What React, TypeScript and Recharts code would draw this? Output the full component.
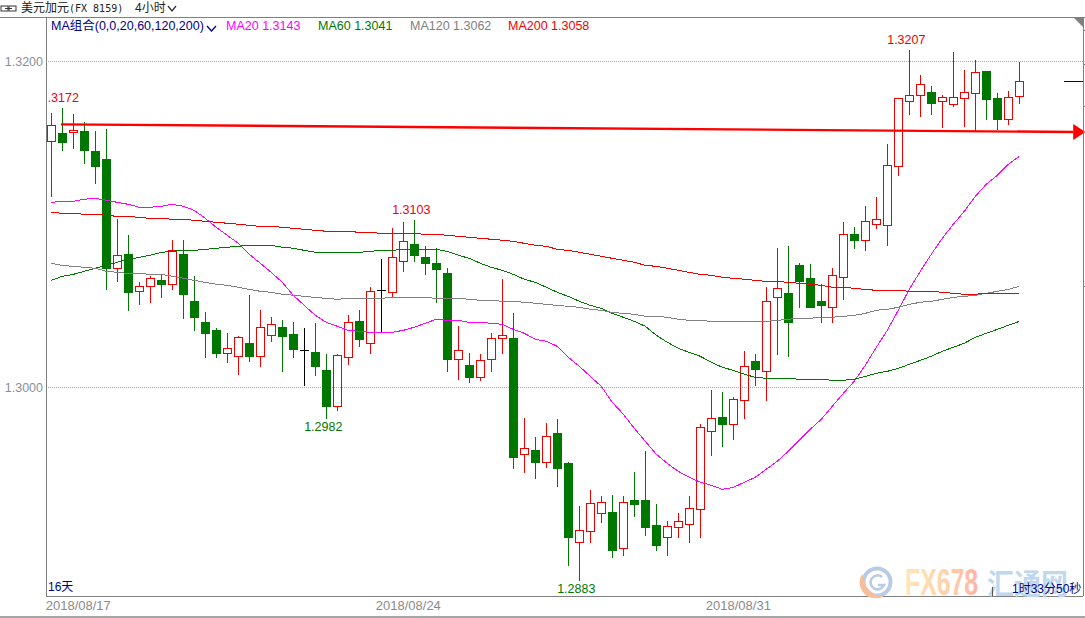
import { Bar, CartesianGrid, ComposedChart, Line, ReferenceDot, ReferenceLine, XAxis, YAxis } from "recharts";

const highs = [
  1.31688, 1.31718, 1.31681, 1.31633, 1.31577, 1.3159, 1.31038, 1.3094, 1.30652, 1.30689,
  1.30701, 1.3091, 1.3091, 1.30689, 1.30469, 1.30371, 1.3034, 1.30322, 1.30573, 1.30481,
  1.30438, 1.3042, 1.30407, 1.30371, 1.30401, 1.30211, 1.30211, 1.3045, 1.30481, 1.30622,
  1.30793, 1.30983, 1.3102, 1.31032, 1.30873, 1.30861, 1.30738, 1.30383, 1.30217, 1.30211,
  1.3034, 1.30671, 1.30462, 1.29819, 1.29703, 1.29789, 1.29813, 1.2955, 1.2928, 1.29378,
  1.29341, 1.29348, 1.29341, 1.29488, 1.29617, 1.29292, 1.29188, 1.29237, 1.29341, 1.29782,
  1.29991, 1.29979, 1.29948, 1.3023, 1.30211, 1.30622, 1.30861, 1.30873, 1.30769, 1.30763,
  1.3064, 1.30738, 1.3102, 1.30989, 1.31118, 1.31173, 1.31498, 1.3178, 1.32074, 1.3192,
  1.31853, 1.31798, 1.32061, 1.31951, 1.32012, 1.31939, 1.3181, 1.31822, 1.32,
];
const lows = [
  1.31173, 1.31455, 1.31467, 1.31375, 1.31253, 1.30603, 1.30652, 1.30475, 1.30511, 1.30524,
  1.30554, 1.30603, 1.30426, 1.30352, 1.30187, 1.30187, 1.30156, 1.30083, 1.30162, 1.30132,
  1.30285, 1.30101, 1.30187, 1.30015, 1.30077, 1.29813, 1.29862, 1.30144, 1.30254, 1.30211,
  1.3034, 1.30554, 1.30714, 1.30775, 1.30695, 1.30524, 1.30101, 1.30052, 1.30034, 1.30046,
  1.30101, 1.30211, 1.29507, 1.29482, 1.29446, 1.29513, 1.29397, 1.28913, 1.28821, 1.29053,
  1.29176, 1.28962, 1.28974, 1.29213, 1.29096, 1.29004, 1.28974, 1.29084, 1.29053, 1.29084,
  1.29586, 1.29642, 1.29685, 1.29813, 1.30015, 1.29923, 1.30205, 1.30193, 1.30493, 1.30493,
  1.30401, 1.30401, 1.30542, 1.30855, 1.30842, 1.30977, 1.30873, 1.31302, 1.31675, 1.31663,
  1.31675, 1.31596, 1.31724, 1.31602, 1.31571, 1.31645, 1.31584, 1.31614, 1.31743,
];
const opens = [
  1.3151, 1.31559, 1.31565, 1.31571, 1.31449, 1.314, 1.30732, 1.30818, 1.30591, 1.30622,
  1.30658, 1.30634, 1.30818, 1.3053, 1.30401, 1.30352, 1.30211, 1.30193, 1.30273, 1.30193,
  1.30322, 1.30371, 1.30328, 1.3023, 1.30217, 1.30107, 1.29887, 1.30187, 1.30407, 1.30273,
  1.30597, 1.30585, 1.30775, 1.30879, 1.30799, 1.30763, 1.30701, 1.30175, 1.30138, 1.30064,
  1.30175, 1.30303, 1.30303, 1.29593, 1.29617, 1.29544, 1.29721, 1.29537, 1.29053, 1.29121,
  1.29231, 1.29237, 1.29017, 1.29311, 1.29311, 1.29158, 1.29084, 1.29145, 1.29164, 1.29256,
  1.29734, 1.29819, 1.29776, 1.29923, 1.30162, 1.30101, 1.30554, 1.30579, 1.3075, 1.30671,
  1.3053, 1.30493, 1.30677, 1.3094, 1.30904, 1.31002, 1.30995, 1.31357, 1.31755, 1.31792,
  1.3181, 1.31755, 1.31737, 1.31773, 1.31804, 1.31939, 1.31773, 1.31645, 1.31786,
];
const closes = [
  1.31608, 1.31504, 1.31577, 1.31455, 1.31357, 1.30732, 1.30812, 1.30585, 1.30622, 1.30671,
  1.30634, 1.30842, 1.30573, 1.30432, 1.30334, 1.30211, 1.30242, 1.30309, 1.30193, 1.30371,
  1.30389, 1.30315, 1.30236, 1.3023, 1.30132, 1.29887, 1.30199, 1.30401, 1.30297, 1.30591,
  1.30597, 1.30799, 1.30897, 1.30812, 1.30763, 1.30726, 1.30175, 1.3023, 1.30064, 1.30168,
  1.30303, 1.30322, 1.29574, 1.29629, 1.29544, 1.29703, 1.29507, 1.29084, 1.29127, 1.29292,
  1.29298, 1.29004, 1.29298, 1.29286, 1.29145, 1.29035, 1.29151, 1.29182, 1.29262, 1.29758,
  1.29813, 1.29776, 1.2993, 1.30132, 1.30113, 1.3053, 1.30609, 1.30401, 1.30652, 1.30493,
  1.30505, 1.30689, 1.3094, 1.30904, 1.3102, 1.31032, 1.31363, 1.31773, 1.31792, 1.31859,
  1.31743, 1.3178, 1.3178, 1.3181, 1.31933, 1.31767, 1.31645, 1.3178, 1.31878,
];

const ma20 = [
  1.31136, 1.31142, 1.31142, 1.31155, 1.31161, 1.31149, 1.31136, 1.31124, 1.31106, 1.31106,
  1.31112, 1.31124, 1.31112, 1.31087, 1.31038, 1.30983, 1.30934, 1.30885, 1.30818, 1.30763,
  1.30707, 1.30646, 1.30567, 1.30505, 1.30444, 1.30401, 1.30377, 1.30352, 1.30346, 1.3034,
  1.3034, 1.3034, 1.30352, 1.30371, 1.30395, 1.3042, 1.30413, 1.30413, 1.30401, 1.30401,
  1.30395, 1.30389, 1.30358, 1.30334, 1.30297, 1.30285, 1.30254, 1.30187, 1.30132, 1.3007,
  1.30009, 1.29911, 1.29838, 1.29752, 1.29672, 1.29593, 1.29537, 1.29488, 1.29452, 1.29421,
  1.29403, 1.29378, 1.2939, 1.29421, 1.29452, 1.29501, 1.2955, 1.29611, 1.29678, 1.29746,
  1.29807, 1.29887, 1.29966, 1.3004, 1.30138, 1.30248, 1.30352, 1.30475, 1.30603, 1.30714,
  1.30818, 1.30916, 1.31002, 1.31081, 1.31173, 1.31247, 1.31302, 1.31369, 1.31418,
];
const ma60 = [
  1.30658, 1.30683, 1.30695, 1.30714, 1.30732, 1.3075, 1.30769, 1.30787, 1.30799, 1.30812,
  1.3083, 1.30836, 1.30842, 1.30842, 1.30848, 1.30855, 1.30861, 1.30867, 1.30873, 1.30873,
  1.30873, 1.30861, 1.30855, 1.30842, 1.3083, 1.3083, 1.3083, 1.3083, 1.3083, 1.30836,
  1.30842, 1.30842, 1.30848, 1.30848, 1.30848, 1.30848, 1.30836, 1.30812, 1.30793, 1.30763,
  1.30738, 1.3072, 1.30695, 1.30665, 1.30646, 1.30616, 1.30585, 1.3056, 1.3053, 1.30505,
  1.30487, 1.30456, 1.30432, 1.30407, 1.30377, 1.30322, 1.30279, 1.30242, 1.30217, 1.30193,
  1.30156, 1.30126, 1.30107, 1.30083, 1.30064, 1.30058, 1.30058, 1.30058, 1.30052, 1.30052,
  1.30052, 1.30046, 1.30046, 1.30052, 1.3007, 1.30089, 1.30101, 1.30119, 1.30144, 1.30168,
  1.30193, 1.30224, 1.30248, 1.30273, 1.30309, 1.30334, 1.30358, 1.30383, 1.30407,
];
const ma120 = [
  1.30763, 1.3075, 1.30744, 1.30738, 1.30732, 1.30714, 1.30707, 1.30701, 1.30701, 1.30695,
  1.30695, 1.30683, 1.30671, 1.30658, 1.30646, 1.30634, 1.30628, 1.30616, 1.30603, 1.30591,
  1.30585, 1.30573, 1.30567, 1.3056, 1.30554, 1.30548, 1.30542, 1.30548, 1.30548, 1.30548,
  1.30548, 1.30554, 1.30554, 1.30554, 1.30554, 1.30548, 1.30548, 1.30548, 1.30542, 1.30536,
  1.30536, 1.3053, 1.3053, 1.30524, 1.30518, 1.30511, 1.30505, 1.30499, 1.30493, 1.30481,
  1.30475, 1.30462, 1.30456, 1.3045, 1.30438, 1.30438, 1.30432, 1.3042, 1.30413, 1.30413,
  1.30407, 1.30407, 1.30407, 1.30407, 1.30407, 1.30407, 1.30413, 1.3042, 1.30426, 1.30426,
  1.30432, 1.30432, 1.30438, 1.30444, 1.30456, 1.30475, 1.30481, 1.30493, 1.30511, 1.30524,
  1.3053, 1.30542, 1.30554, 1.3056, 1.30567, 1.30579, 1.30591, 1.30603, 1.30622,
];
const ma200 = [
  1.31075, 1.31069, 1.31069, 1.31063, 1.31063, 1.31057, 1.3105, 1.3105, 1.31044, 1.31038,
  1.31038, 1.31032, 1.31032, 1.31026, 1.3102, 1.31014, 1.31008, 1.31002, 1.30995, 1.30989,
  1.30989, 1.30983, 1.30977, 1.30971, 1.30965, 1.30959, 1.30959, 1.30959, 1.30952, 1.30952,
  1.30946, 1.30946, 1.30946, 1.30946, 1.3094, 1.3094, 1.30934, 1.30928, 1.30922, 1.30916,
  1.3091, 1.30904, 1.30897, 1.30885, 1.30873, 1.30867, 1.30848, 1.30842, 1.3083, 1.30818,
  1.30806, 1.30793, 1.30781, 1.30769, 1.3075, 1.30744, 1.30732, 1.3072, 1.30707, 1.30695,
  1.30689, 1.30677, 1.30671, 1.30665, 1.30658, 1.30652, 1.30652, 1.30646, 1.3064, 1.30634,
  1.30628, 1.30616, 1.30616, 1.30609, 1.30603, 1.30597, 1.30597, 1.30597, 1.30591, 1.30591,
  1.30591, 1.30585, 1.30579, 1.30573, 1.30573, 1.30579, 1.30579, 1.30579, 1.30579,
];

const yTicks = [1.3, 1.32];
const frameTicks = [1.3219, 1.31982, 1.31724, 1.30622];
const dateIndexes = [0, 30, 60];
const dateLabels = ["2018/08/17", "2018/08/24", "2018/08/31"];
const extremes = [
  { at: 1, price: 1.31718, text: ".3172", color: "#f00000", below: false },
  { at: 33, price: 1.31032, text: "1.3103", color: "#f00000", below: false },
  { at: 78, price: 1.32074, text: "1.3207", color: "#f00000", below: false },
  { at: 25, price: 1.29813, text: "1.2982", color: "#007800", below: true },
  { at: 48, price: 1.28821, text: "1.2883", color: "#007800", below: true },
];
const maLegend = [
  { text: "MA20 1.3143", color: "#ff00ff", left: 226 },
  { text: "MA60 1.3041", color: "#007800", left: 318 },
  { text: "MA120 1.3062", color: "#808080", left: 410 },
  { text: "MA200 1.3058", color: "#f00000", left: 508 },
];
const trendFrom = { x: 0.88, y: 1.31614 };
const trendTo = { x: 92.9, y: 1.31567 };
const lastPrice = 1.31878;

const data = highs.map((high, i) => ({
  i,
  high,
  low: lows[i],
  open: opens[i],
  close: closes[i],
  ma20: ma20[i],
  ma60: ma60[i],
  ma120: ma120[i],
  ma200: ma200[i],
}));

const UP = "#ee0000";
const DOWN = "#007800";
const FONT = '"Liberation Sans", Arial, sans-serif';
const CJK = '"Liberation Sans", "Noto Sans CJK SC", sans-serif';
const Y_DOMAIN = [1.287246, 1.322715];

function Candle(props: any) {
  const { x, y, width, height, payload } = props;
  const cx = Math.round(x + width / 2 - 0.5);
  const top = Math.min(y, y + height);
  const span = Math.abs(height);
  const py = (v: number) => Math.round(top + ((payload.high - v) / (payload.high - payload.low)) * span) + 0.5;
  const bodyTop = py(Math.max(payload.open, payload.close));
  const bodyBot = py(Math.min(payload.open, payload.close));
  const hi = py(payload.high);
  const lo = py(payload.low);
  const wick = cx + 0.5;
  const flat = payload.open === payload.close;
  const up = payload.close > payload.open;
  const color = flat ? "#000000" : up ? UP : DOWN;
  return (
    <g shapeRendering="crispEdges" stroke={color}>
      <line x1={wick} x2={wick} y1={hi} y2={bodyTop} />
      <line x1={wick} x2={wick} y1={bodyBot} y2={lo} />
      {flat ? (
        <line x1={cx - 4} x2={cx + 5} y1={bodyTop} y2={bodyTop} />
      ) : up ? (
        <rect x={cx - 3.5} y={bodyTop} width={8} height={bodyBot - bodyTop} fill="none" />
      ) : (
        <rect x={cx - 3.5} y={bodyTop} width={8} height={bodyBot - bodyTop} fill={DOWN} />
      )}
    </g>
  );
}

function DateTick({ x, y, payload }: any) {
  const idx = dateIndexes.indexOf(payload.value);
  return (
    <text x={x - 5.5} y={y + 6} fill="#8a8a8a" fontSize={13} fontFamily={FONT}>
      {dateLabels[idx]}
    </text>
  );
}

function TrendArrow({ x1, y1, x2, y2 }: any) {
  return (
    <g>
      <line x1={x1} y1={y1} x2={x2} y2={y2} stroke="#ff0000" strokeWidth={2.4} />
      <polygon points={`${x2},${y2 - 8} ${x2 + 12},${y2} ${x2},${y2 + 8}`} fill="#ff0000" />
    </g>
  );
}

const crisp = { shapeRendering: "crispEdges" } as const;

function Watermark() {
  return (
    <svg width={1085} height={618} style={{ position: "absolute", left: 0, top: 0, pointerEvents: "none" }}>
      <defs>
        <linearGradient id="fxGrad" x1="0" x2="1" y1="0" y2="0">
          <stop offset="0%" stopColor="#ffe6bb" />
          <stop offset="55%" stopColor="#ffd2a8" />
          <stop offset="100%" stopColor="#ffb3a6" />
        </linearGradient>
      </defs>
      <circle cx={877} cy={582} r={13.5} fill="none" stroke="#b8cbe6" strokeWidth={4} />
      <path d="M862 574 A16 16 0 0 0 884 596 A20 20 0 0 1 866 586 Z" fill="#f8bd9a" />
      <path d="M882 577 A7 7 0 1 0 884 585 L878 585" fill="none" stroke="#b8cbe6" strokeWidth={2.5} />
      <text x={905} y={595} fontFamily='"Liberation Sans Narrow", "Liberation Sans", sans-serif' fontWeight={700} fontSize={36}
        fill="url(#fxGrad)" textLength={73} lengthAdjust="spacingAndGlyphs">FX678</text>
      <text x={987} y={595} fontFamily='"Noto Sans CJK SC", sans-serif' fontWeight={700} fontSize={29}
        fill="#bfd8ee" textLength={81} lengthAdjust="spacingAndGlyphs">汇通网</text>
      <line x1={992.5} x2={992.5} y1={587} y2={596} stroke="#555" />
      <polygon points="1073,17 1083,17 1083,27" fill="#808080" />
    </svg>
  );
}

export default function App() {
  return (
    <div style={{ position: "fixed", left: 0, top: 0, width: 1085, height: 618, background: "#fff", overflow: "hidden" }}>
      <ComposedChart
        width={1085}
        height={618}
        data={data}
        margin={{ top: 17, right: 0, left: 0, bottom: 0 }}
        style={{ position: "absolute", left: 0, top: 0 }}
      >
        <CartesianGrid vertical={false} stroke="#aaaaaa" strokeDasharray="1 1" style={crisp} />
        <XAxis
          dataKey="i"
          type="number"
          scale="linear"
          domain={[-0.48, 93.79]}
          ticks={dateIndexes}
          interval={0}
          height={22}
          tick={DateTick}
          tickLine={false}
          axisLine={{ stroke: "#808080", ...crisp }}
          allowDataOverflow
        />
        <YAxis
          domain={Y_DOMAIN}
          ticks={yTicks}
          width={46}
          allowDataOverflow
          tickFormatter={(v: number) => v.toFixed(4)}
          tick={{ fill: "#87909a", fontSize: 12.5, fontFamily: FONT }}
          tickLine={false}
          tickSize={0}
          tickMargin={3}
          axisLine={{ stroke: "#808080", ...crisp }}
        />
        <YAxis
          yAxisId="frame"
          orientation="right"
          domain={Y_DOMAIN}
          ticks={frameTicks}
          width={2}
          allowDataOverflow
          tickSize={2}
          tickFormatter={() => ""}
          tickLine={{ stroke: "#808080", ...crisp }}
          axisLine={{ stroke: "#808080", ...crisp }}
        />
        <Line dataKey="ma20" stroke="#ff00ff" strokeWidth={1} dot={false} isAnimationActive={false} style={crisp} />
        <Line dataKey="ma60" stroke="#007800" strokeWidth={1} dot={false} isAnimationActive={false} style={crisp} />
        <Line dataKey="ma120" stroke="#808080" strokeWidth={1} dot={false} isAnimationActive={false} style={crisp} />
        <Line dataKey="ma200" stroke="#ee0000" strokeWidth={1} dot={false} isAnimationActive={false} style={crisp} />
        <Bar dataKey={(d: any) => [d.low, d.high]} barSize={11} shape={Candle} isAnimationActive={false} />
        <ReferenceLine
          segment={[
            { x: 92.06, y: lastPrice },
            { x: 93.79, y: lastPrice },
          ]}
          stroke="#000080"
          style={crisp}
        />
        <ReferenceLine
          segment={[trendFrom, trendTo]}
          ifOverflow="visible"
          shape={TrendArrow}
        />
        {extremes.map((m) => (
          <ReferenceDot
            key={m.text}
            x={m.at}
            y={m.price}
            ifOverflow="visible"
            shape={({ cx, cy }: any) => (
              <text
                x={m.text.startsWith(".") ? cx + 1 : cx - 3}
                y={m.below ? cy + 13 : cy - 5}
                textAnchor="middle"
                fill={m.color}
                fontSize={12.5}
                fontFamily={FONT}
              >
                {m.text}
              </text>
            )}
          />
        ))}
      </ComposedChart>

      <Watermark />

      <div style={{ position: "absolute", left: 0, top: 17, width: 1085, height: 1, background: "#808080" }} />
      <div style={{ position: "absolute", left: 0, top: 616, width: 1085, height: 2, background: "#a6a6a6" }} />

      <svg width={180} height={17} style={{ position: "absolute", left: 0, top: 0 }}>
        <rect x={1} y={6} width={7} height={5} fill="none" stroke="#333" />
        <rect x={9} y={6} width={7} height={5} fill="none" stroke="#333" />
        <line x1={5} x2={12} y1={8.5} y2={8.5} stroke="#333" />
        <path d="M168 6 L172 11 L176 6" fill="none" stroke="#333" strokeWidth={1.3} />
      </svg>
      <div style={{ position: "absolute", left: 21, top: 0, height: 17, lineHeight: "17px", fontSize: 12, color: "#222", fontFamily: CJK, whiteSpace: "nowrap" }}>
        美元加元<span style={{ fontFamily: '"DejaVu Sans Mono", monospace', fontSize: 10 }}>(FX 8159)</span>
      </div>
      <div style={{ position: "absolute", left: 135, top: 0, height: 17, lineHeight: "17px", fontSize: 12, color: "#222", fontFamily: CJK, whiteSpace: "nowrap" }}>
        4小时
      </div>

      <div style={{ position: "absolute", left: 51, top: 18, lineHeight: "16px", fontSize: 12.5, color: "#00008b", fontFamily: CJK, whiteSpace: "nowrap" }}>
        MA组合(0,0,20,60,120,200)
      </div>
      <svg width={12} height={8} style={{ position: "absolute", left: 206, top: 25 }}>
        <path d="M1 1 L5.5 6 L10 1" fill="none" stroke="#00008b" strokeWidth={1.3} />
      </svg>
      {maLegend.map((m) => (
        <div
          key={m.text}
          style={{ position: "absolute", left: m.left, top: 18, lineHeight: "16px", fontSize: 12.5, color: m.color, fontFamily: FONT, whiteSpace: "nowrap" }}
        >
          {m.text}
        </div>
      ))}

      <div style={{ position: "absolute", left: 48, top: 579, lineHeight: "16px", fontSize: 12, color: "#00008b", fontFamily: CJK }}>16天</div>
      <div style={{ position: "absolute", left: 1012, top: 581, lineHeight: "16px", fontSize: 12, color: "#00008b", fontFamily: CJK, whiteSpace: "nowrap" }}>
        1时33分50秒
      </div>
    </div>
  );
}
